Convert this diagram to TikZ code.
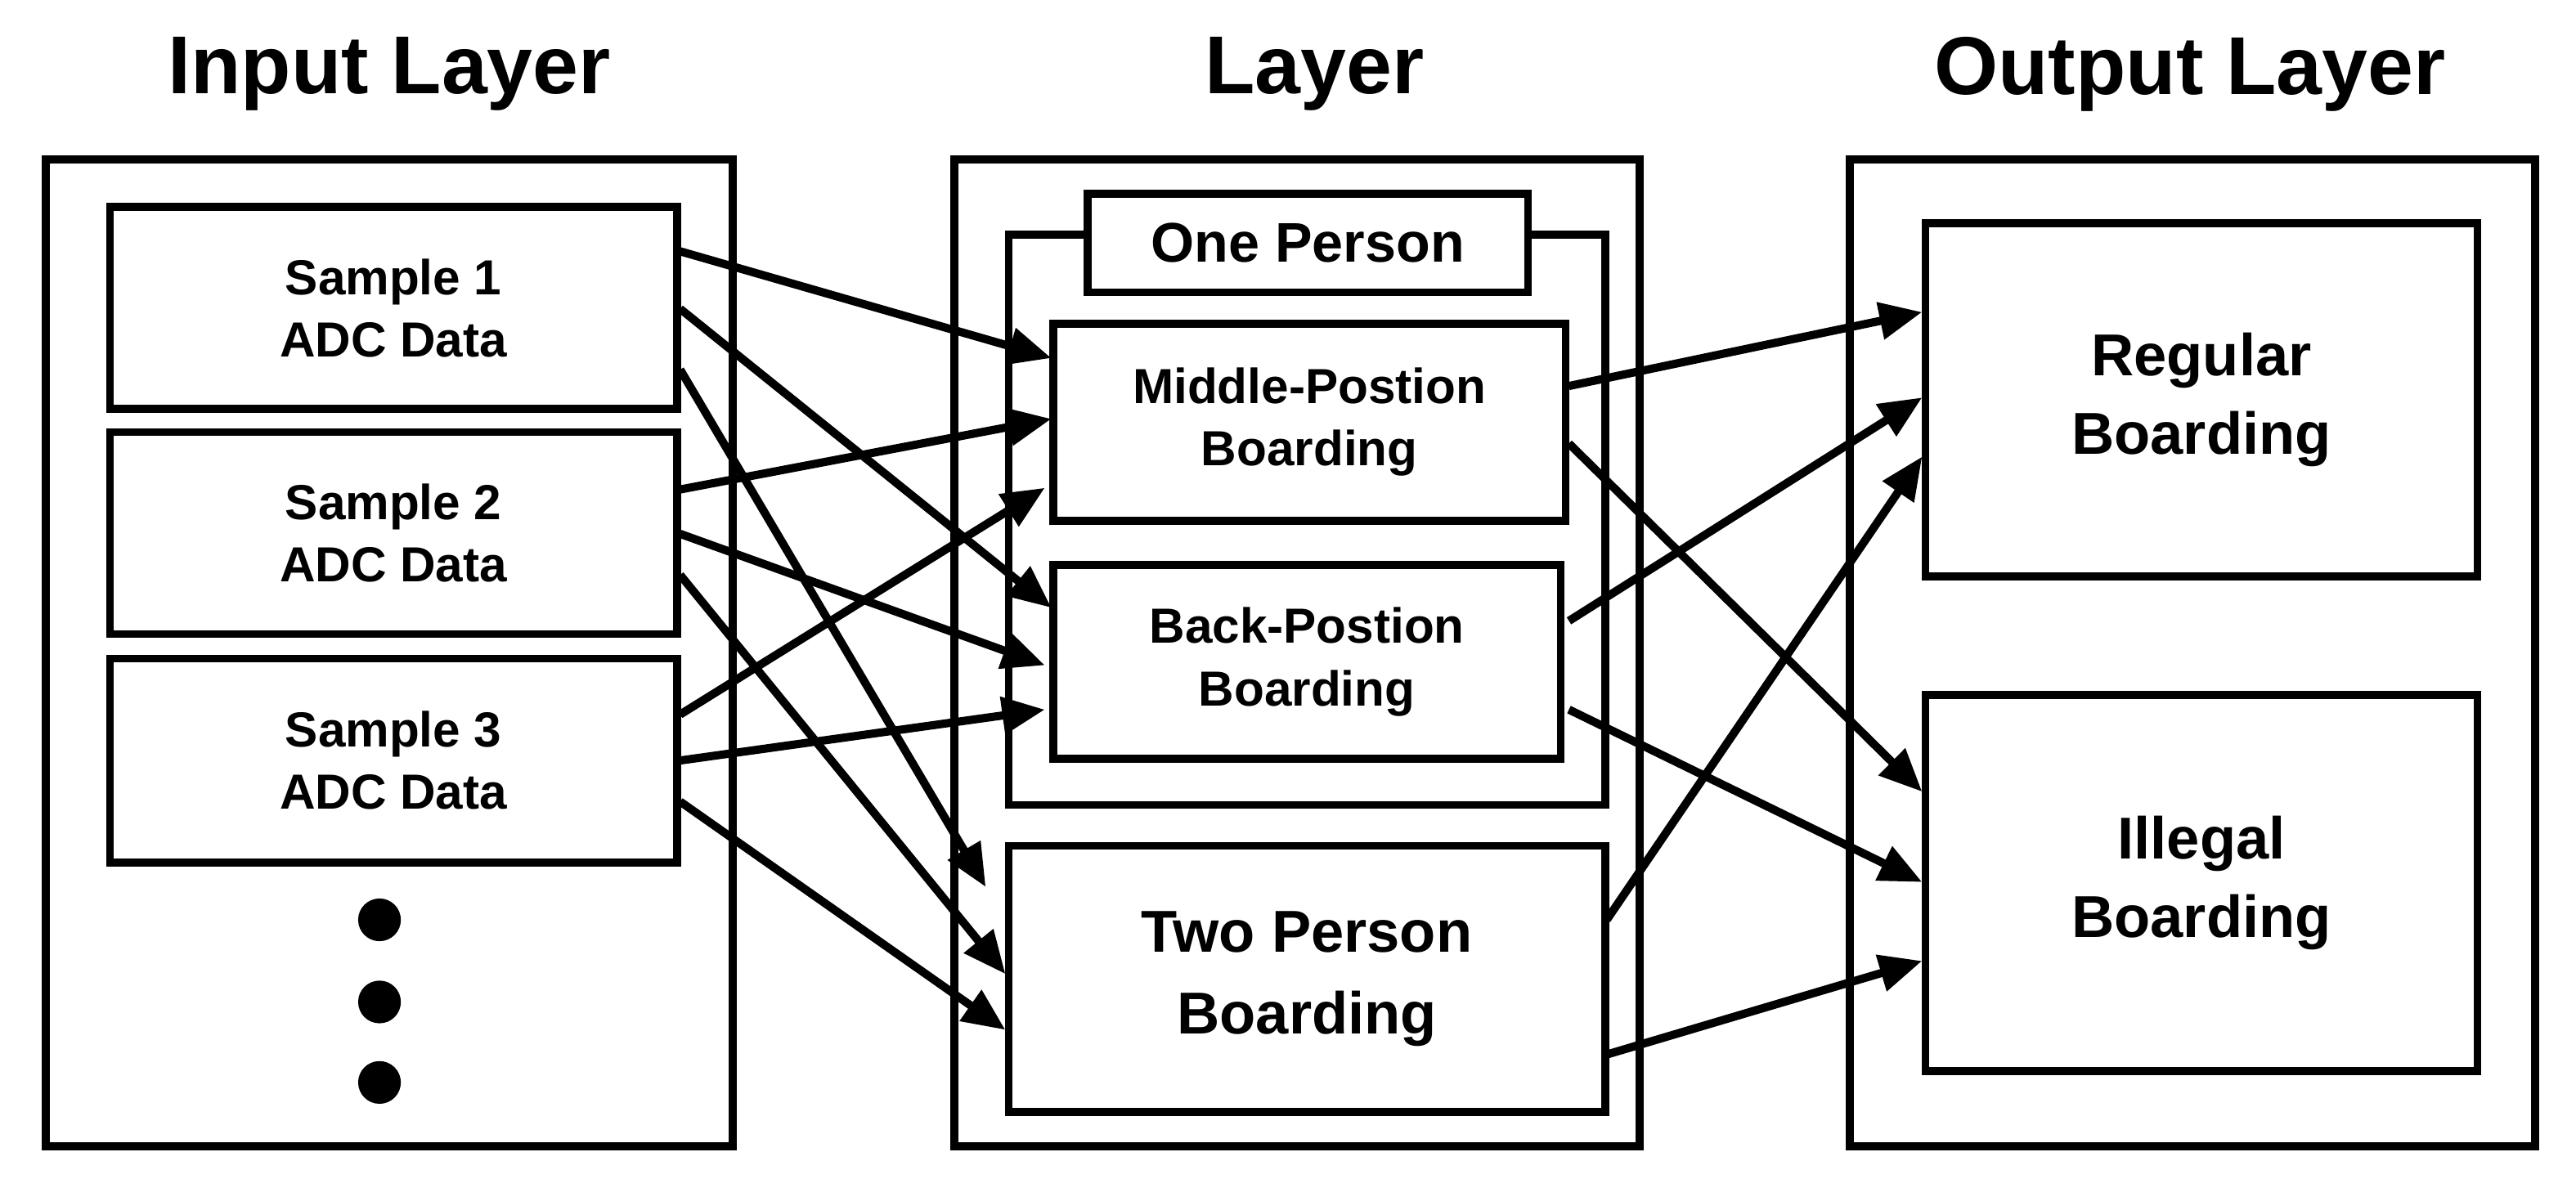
\documentclass[tikz,border=0pt]{standalone}
\usepackage{fontspec}
\setmainfont{Liberation Sans}
\usetikzlibrary{arrows.meta}
\begin{document}
\begin{tikzpicture}[x=0.5pt,y=-0.5pt,
 box/.style={draw,line width=2.4pt,fill=white},
 lbl/.style={font=\bfseries\fontsize{15}{19}\selectfont,align=center},
 ttl/.style={font=\bfseries\fontsize{25}{30}\selectfont},
 arr/.style={line width=2.5pt,-{Triangle[length=13pt,width=11pt]}}]
\useasboundingbox (0,0) rectangle (1568,723);
\node[ttl] (t1) at (237,45) {Input Layer};
\node[ttl] (t2) at (800,45) {Layer};
\node[ttl] (t3) at (1333,45) {Output Layer};
\draw[box] (28,97) rectangle (446,698);
\draw[box] (581,97) rectangle (998,698);
\draw[box] (1126,97) rectangle (1543,698);
\draw[box] (614,143) rectangle (977,490);
\node[box,lbl,minimum width=134pt,minimum height=30pt,font=\bfseries\fontsize{17}{20}\selectfont] (one) at (796,148) {One Person};
\node[box,lbl,minimum width=172.5pt,minimum height=61.5pt] (s1) at (239.5,187.5) {Sample 1\\ADC Data};
\node[box,lbl,minimum width=172.5pt,minimum height=61.5pt] (s2) at (239.5,324.5) {Sample 2\\ADC Data};
\node[box,lbl,minimum width=172.5pt,minimum height=62pt] (s3) at (239.5,463) {Sample 3\\ADC Data};
\foreach \y/\n in {560/d1,610/d2,659/d3} \fill (231,\y) circle (6.5pt) coordinate (\n);
\node[box,lbl,minimum width=156pt,minimum height=60pt] (mid) at (797,257) {Middle-Postion\\Boarding};
\node[box,lbl,minimum width=154.5pt,minimum height=59pt] (back) at (795.5,403) {Back-Postion\\Boarding};
\node[box,lbl,minimum width=181.5pt,minimum height=81pt,font=\bfseries\fontsize{18}{25}\selectfont] (two) at (795.5,596) {Two Person\\Boarding};
\node[box,lbl,minimum width=168pt,minimum height=107.5pt,font=\bfseries\fontsize{18}{24}\selectfont] (reg) at (1340,243.5) {Regular\\Boarding};
\node[box,lbl,minimum width=168pt,minimum height=114.5pt,font=\bfseries\fontsize{18}{24}\selectfont] (ill) at (1340,537.5) {Illegal\\Boarding};
\foreach \n/\x/\y in {a1/414/153,a2/414/188,a3/414/225,b1/414/298,b2/414/325,b3/414/350,c1/414/435,c2/414/463,c3/414/488,
 m1/955/235,m2/955/270,k1/955/378,k2/955/432,w1/978/560,w2/978/642,
 ma/640/218,mb/640/255,mc/636/297,ka/640/370,kb/636/405,kc/636/432,wa/600/540,wb/612/593,wc/612/627,
 ra/1170/190,rb/1170/242,rc/1170/278,ia/1170/482,ib/1170/537,ic/1170/585}
 \coordinate (\n) at (\x,\y);
\foreach \s/\e in {a1/ma,a2/ka,a3/wa,b1/mb,b2/kb,b3/wb,c1/mc,c2/kc,c3/wc,m1/ra,m2/ia,k1/rb,k2/ib,w1/rc,w2/ic}
 \draw[arr] (\s) -- (\e);
\end{tikzpicture}
\end{document}
